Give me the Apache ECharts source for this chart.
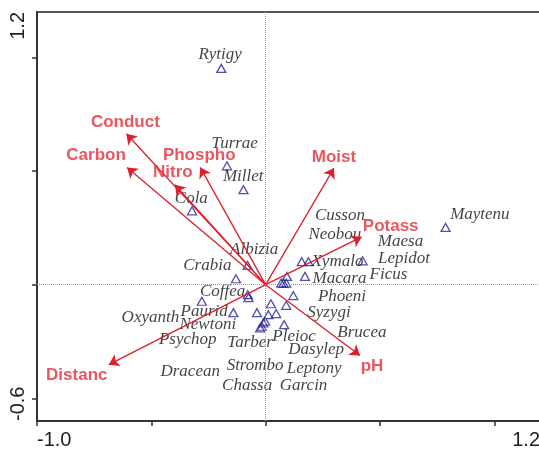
<!DOCTYPE html>
<html>
<head>
<meta charset="utf-8">
<script src="https://cdn.jsdelivr.net/npm/echarts@6/dist/echarts.min.js"></script>
<style>
  html, body { margin: 0; padding: 0; background: #fff; }
  #container { width: 539px; height: 450px; }
</style>
</head>
<body>
<div id="container"></div>
<script>
// axis ticks and the two end labels per axis
var xTicks = [-1.0, -0.5, 0, 0.5, 1.0];
var yTicks = [-0.5, 0, 0.5, 1.0];
var xLabels = [-1.0, 1.2];
var yLabels = [-0.6, 1.2];

// environmental variables (arrow tips)
var envNames = ['Conduct', 'Carbon', 'Phospho', 'Nitro', 'Moist', 'Potass', 'pH', 'Distanc'];
var envX = [-0.609, -0.606, -0.286, -0.397, 0.299, 0.420, 0.413, -0.686];
var envY = [0.664, 0.516, 0.516, 0.440, 0.513, 0.210, -0.312, -0.352];

// species scores (triangles)
var speciesNames = ['Rytigy', 'Turrae', 'Millet', 'Cola', 'Maytenu', 'Albizia', 'Crabia', 'Coffea', 'Maesa',
  'Oxyanth', 'Paurid', 'Newtoni', 'Psychop', 'Tarber', 'Strombo', 'Dracean', 'Chassa', 'Garcin', 'Leptony',
  'Pleioc', 'Dasylep', 'Syzygi', 'Phoeni', 'Ficus', 'Brucea', 'Macara', 'Cusson', 'Neobou', 'Xymalo', 'Lepidot'];
var speciesX = [-0.194, -0.169, -0.097, -0.322, 0.787, -0.079, -0.130, -0.078, -0.075,
  -0.279, -0.141, -0.038, -0.024, -0.017, -0.010, -0.002, 0.012, 0.023, 0.046,
  0.081, 0.090, 0.121, 0.068, 0.078, 0.090, 0.093, 0.172, 0.158, 0.187, 0.424];
var speciesY = [0.952, 0.523, 0.418, 0.325, 0.252, 0.085, 0.026, -0.044, -0.057,
  -0.073, -0.123, -0.123, -0.190, -0.183, -0.168, -0.161, -0.132, -0.084, -0.127,
  -0.176, -0.091, -0.048, 0.007, 0.007, 0.007, 0.036, 0.036, 0.101, 0.101, 0.105];

// where each species name is written
var nameX = [-0.199, -0.135, -0.098, -0.325, 0.937, -0.050, -0.255, -0.188, 0.590,
  -0.504, -0.269, -0.253, -0.341, -0.068, -0.046, -0.330, -0.081, 0.166, 0.212,
  0.124, 0.221, 0.277, 0.334, 0.537, 0.421, 0.323, 0.325, 0.303, 0.314, 0.605];
var nameY = [1.011, 0.623, 0.476, 0.381, 0.308, 0.154, 0.085, -0.029, 0.190,
  -0.146, -0.117, -0.176, -0.242, -0.255, -0.356, -0.381, -0.444, -0.444, -0.369,
  -0.227, -0.286, -0.123, -0.051, 0.044, -0.211, 0.029, 0.305, 0.220, 0.102, 0.113];

// pixel offsets of the arrow labels from the arrow tips
var envLabelOffset = {
  Conduct: [-1, -11], Carbon: [-31, -12], Phospho: [-1, -12], Nitro: [-2, -12],
  Moist: [0, -11], Potass: [29, -11], pH: [12, 11], Distanc: [-32, 11]
};

var red = '#dd1f2c';
var navy = '#25259a';

var dom = document.getElementById('container');
var myChart = echarts.init(dom, null, { renderer: 'canvas' });

var option = {
  animation: false,
  grid: {
    left: 37, top: 12, width: 503, height: 409,
    outerBoundsMode: 'none',
    show: true, borderColor: '#222', borderWidth: 1.5
  },
  xAxis: {
    type: 'value', min: -1.0, max: 1.2,
    axisLine: { onZero: false, lineStyle: { color: '#333', width: 2 } },
    axisTick: { show: true, length: 5, customValues: xTicks, lineStyle: { color: '#333', width: 1.5 } },
    axisLabel: {
      customValues: xLabels, margin: 9,
      formatter: function (v) { return v.toFixed(1); },
      fontSize: 20, color: '#222', fontFamily: 'Liberation Sans, Arial',
      alignMinLabel: 'left', alignMaxLabel: 'right'
    },
    splitLine: { show: false }
  },
  yAxis: {
    type: 'value', min: -0.6, max: 1.2,
    axisLine: { onZero: false, lineStyle: { color: '#333', width: 2 } },
    axisTick: { show: true, length: 5, customValues: yTicks, lineStyle: { color: '#333', width: 1.5 } },
    axisLabel: {
      customValues: yLabels, margin: 9, rotate: 90,
      formatter: function (v) { return v.toFixed(1); },
      fontSize: 20, color: '#222', fontFamily: 'Liberation Sans, Arial',
      alignMinLabel: 'left', alignMaxLabel: 'right'
    },
    splitLine: { show: false }
  },
  series: [
    {
      name: 'species',
      type: 'scatter',
      symbol: 'triangle',
      symbolSize: [9, 8],
      itemStyle: { color: 'rgba(0,0,0,0)', borderColor: navy, borderWidth: 1.3 },
      data: speciesNames.map(function (n, i) { return { name: n, value: [speciesX[i], speciesY[i]] }; }),
      markLine: {
        silent: true,
        symbol: 'none',
        label: { show: false },
        lineStyle: { type: 'dotted', color: '#999', width: 1 },
        data: [{ xAxis: 0 }, { yAxis: 0 }]
      },
      z: 2
    },
    {
      name: 'speciesNames',
      type: 'scatter',
      symbolSize: 0,
      silent: true,
      label: {
        show: true, position: 'inside',
        formatter: '{b}',
        fontFamily: 'Liberation Serif, Times New Roman', fontStyle: 'italic',
        fontSize: 17, color: '#111'
      },
      data: speciesNames.map(function (n, i) { return { name: n, value: [nameX[i], nameY[i]] }; }),
      z: 3
    },
    {
      name: 'env',
      type: 'lines',
      coordinateSystem: 'cartesian2d',
      symbol: ['none', 'arrow'],
      symbolSize: 10,
      lineStyle: { color: red, width: 1.3, opacity: 1 },
      data: envNames.map(function (n, i) { return { coords: [[0, 0], [envX[i], envY[i]]] }; }),
      z: 4
    },
    {
      name: 'envNames',
      type: 'scatter',
      symbolSize: 0,
      silent: true,
      data: envNames.map(function (n, i) {
        return {
          name: n, value: [envX[i], envY[i]],
          label: { offset: envLabelOffset[n] }
        };
      }),
      label: {
        show: true, position: 'inside', formatter: '{b}',
        fontFamily: 'Liberation Sans, Arial', fontWeight: 'bold',
        fontSize: 17, color: '#e42c36'
      },
      z: 5
    }
  ]
};

if (option && typeof option === 'object') {
  myChart.setOption(option);
}
</script>
</body>
</html>
